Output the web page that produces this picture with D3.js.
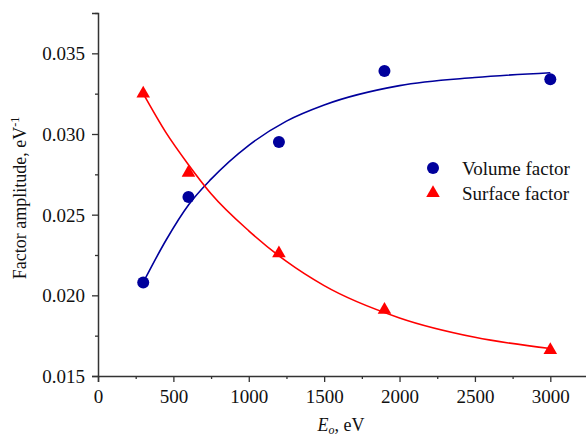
<!DOCTYPE html>
<html>
<head>
<meta charset="utf-8">
<script src="https://cdn.jsdelivr.net/npm/d3@7"></script>
<style>
  body { margin: 0; background: #fff; }
  svg text { font-family: "Liberation Serif", "Times New Roman", serif; fill: #111; }
</style>
</head>
<body>
<svg id="chart" width="586" height="439"></svg>
<script>
// measured points
var energies = [300, 600, 1200, 1900, 3000];
var volumeValues = [0.0208, 0.0261, 0.0295, 0.0339, 0.0334];
var surfaceValues = [0.0325, 0.0276, 0.0226, 0.0191, 0.0166];

// fitted curves
var fitEnergies = [300, 450, 600, 750, 1000, 1250, 1500, 2000, 2500, 3000];
var volumeFit = [0.0208, 0.0234, 0.0256, 0.0272, 0.0293, 0.0308, 0.0318, 0.0330, 0.0335, 0.0338];
var surfaceFit = [0.0325, 0.0301, 0.0281, 0.0263, 0.0240, 0.0221, 0.0206, 0.0186, 0.0174, 0.0167];

var xTicks = [0, 500, 1000, 1500, 2000, 2500, 3000];
var xMinorTicks = [250, 750, 1250, 1750, 2250, 2750];
var yTicks = [0.015, 0.020, 0.025, 0.030, 0.035];
var yMinorTicks = [0.0175, 0.0225, 0.0275, 0.0325, 0.0375];

var legendNames = ["Volume factor", "Surface factor"];

var blue = "#00009c", red = "#ff0000";

var svg = d3.select("#chart");
var x = d3.scaleLinear().domain([0, 3250]).range([98, 588]);
var y = d3.scaleLinear().domain([0.015, 0.0375]).range([376, 13]);

// axes
var xAxis = svg.append("g").attr("transform", "translate(0,376)")
    .call(d3.axisBottom(x).tickValues(xTicks).tickFormat(d3.format("d")).tickSize(6).tickPadding(8));
var xMinor = svg.append("g").attr("transform", "translate(0,376)")
    .call(d3.axisBottom(x).tickValues(xMinorTicks).tickFormat("").tickSize(3));
var yAxis = svg.append("g").attr("transform", "translate(98,0)")
    .call(d3.axisLeft(y).tickValues(yTicks).tickFormat(d3.format(".3f")).tickSize(6).tickPadding(7));
var yMinor = svg.append("g").attr("transform", "translate(98,0)")
    .call(d3.axisLeft(y).tickValues(yMinorTicks).tickFormat("").tickSize(3));

[xAxis, xMinor, yAxis, yMinor].forEach(function(g){
    g.attr("font-family", null);
    g.select(".domain").attr("stroke", "#333").attr("stroke-width", 1.5);
    g.selectAll(".tick line").attr("stroke", "#333").attr("stroke-width", 1.3);
    g.selectAll(".tick text").attr("font-size", 19).attr("fill", "#111")
        .style("font-family", "Liberation Serif");
});
xMinor.select(".domain").remove();
yMinor.select(".domain").remove();
yAxis.selectAll(".tick text").attr("dy", "0.35em");

// fit curves
var line = d3.line().curve(d3.curveMonotoneX)
    .x(function(d){ return x(d[0]); })
    .y(function(d){ return y(d[1]); });

svg.append("path")
    .datum(d3.zip(fitEnergies, volumeFit))
    .attr("d", line).attr("fill", "none").attr("stroke", blue).attr("stroke-width", 1.6);
svg.append("path")
    .datum(d3.zip(fitEnergies, surfaceFit))
    .attr("d", line).attr("fill", "none").attr("stroke", red).attr("stroke-width", 1.6);

// markers
var tri = d3.symbol().type(d3.symbolTriangle).size(80);

svg.selectAll("circle.vol")
    .data(d3.zip(energies, volumeValues))
    .enter().append("circle")
    .attr("class", "vol")
    .attr("cx", function(d){ return x(d[0]); })
    .attr("cy", function(d){ return y(d[1]); })
    .attr("r", 6)
    .attr("fill", blue);

svg.selectAll("path.surf")
    .data(d3.zip(energies, surfaceValues))
    .enter().append("path")
    .attr("class", "surf")
    .attr("d", tri)
    .attr("transform", function(d){ return "translate(" + x(d[0]) + "," + y(d[1]) + ")"; })
    .attr("fill", red);

// legend
var legend = svg.append("g").attr("transform", "translate(433,168)");
legend.append("circle").attr("cx", 0).attr("cy", 0).attr("r", 6).attr("fill", blue);
legend.append("path").attr("d", tri).attr("transform", "translate(0,25)").attr("fill", red);
legend.selectAll("text")
    .data(legendNames)
    .enter().append("text")
    .attr("x", 29)
    .attr("y", function(d, i){ return i * 25; })
    .attr("dy", "0.35em")
    .attr("font-size", 19)
    .text(function(d){ return d; });

// axis titles
var yTitle = svg.append("text")
    .attr("transform", "translate(26,198) rotate(-90)")
    .attr("text-anchor", "middle")
    .attr("font-size", 18);
yTitle.append("tspan").text("Factor amplitude, eV");
yTitle.append("tspan").attr("dy", -7).attr("font-size", 12).text("-1");

var xTitle = svg.append("text")
    .attr("x", 341).attr("y", 431)
    .attr("text-anchor", "middle")
    .attr("font-size", 18);
xTitle.append("tspan").attr("font-style", "italic").text("E");
xTitle.append("tspan").attr("font-style", "italic").attr("font-size", 12).attr("dy", 3).text("o");
xTitle.append("tspan").attr("dy", -3).text(", eV");
</script>
</body>
</html>
